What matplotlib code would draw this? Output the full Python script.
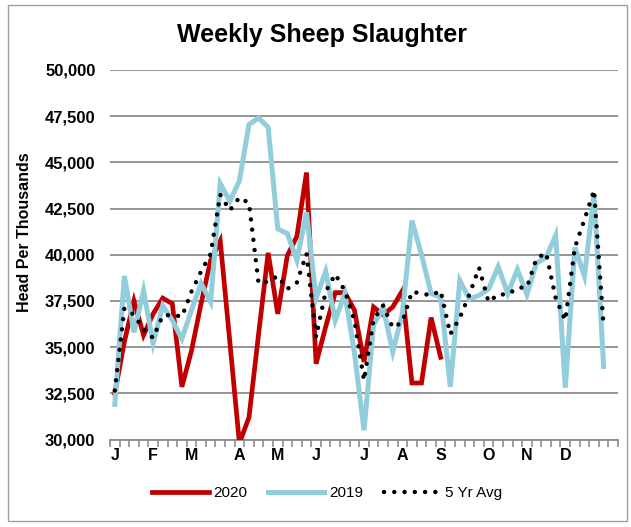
import numpy as np
import matplotlib
matplotlib.use("Agg")
import matplotlib.pyplot as plt
from matplotlib.patches import Rectangle
from matplotlib.ticker import FixedLocator, FuncFormatter

plt.rcParams['font.family'] = ['Liberation Sans', 'DejaVu Sans']

# ---- data ----
month_labels = ["J", "F", "M", "A", "M", "J", "J", "A", "S", "O", "N", "D"]
month_weeks = [0, 4, 8, 13, 17, 21, 26, 30, 34, 39, 43, 47]

y2020 = [32500, 35300, 37500, 35650, 36800, 37650, 37350, 32850, 34800, 37350,
         39700, 40750, 35300, 29800, 31200, 35700, 40100, 36800, 39950, 41000,
         44450, 34100, 36100, 37950, 37950, 37000, 34200, 37170, 36750, 37175,
         38050, 33060, 33060, 36600, 34450]

y2019 = [31900, 38850, 35800, 38050, 35200, 37250, 36450, 35450, 37000, 38450,
         37450, 43850, 42900, 44000, 47050, 47400, 46900, 41400, 41150, 39700,
         42300, 37650, 39100, 36450, 37900, 34700, 30500, 36200, 37150, 34750,
         36800, 41850, 40000, 37900, 37700, 32850, 38600, 37600, 37800, 38150,
         39350, 37900, 39200, 37850, 39550, 39850, 41050, 32800, 40400, 38850,
         43250, 33950]

avg5 = [32650, 37100, 36750, 35950, 35500, 36700, 36750, 36650, 38000, 39100,
        40050, 43250, 42400, 43100, 42800, 38450, 38550, 38850, 38150, 38500,
        40050, 35550, 38000, 38950, 38050, 36450, 33200, 36500, 37250, 36050,
        36350, 38000, 37900, 37800, 38050, 35700, 36600, 37850, 39300, 37450,
        37850, 37850, 38200, 38250, 39800, 40100, 37650, 36450, 40400, 41900,
        43500, 36100]

n_weeks = 53

W, H = 631, 527
fig = plt.figure(figsize=(W / 100, H / 100), dpi=100)
ax = fig.add_axes([110 / W, 1 - 439.5 / H, (618 - 110) / W, (439.5 - 70) / H])

red = "#C00000"
blue = "#92CDDC"

ax.plot(np.arange(len(y2020)), y2020, color=red, lw=3.4, solid_joinstyle="miter",
        label="2020", zorder=3)
ax.plot(np.arange(len(y2019)), y2019, color=blue, lw=3.6, solid_joinstyle="miter",
        label="2019", zorder=4)
ax.plot(np.arange(len(avg5)), avg5, color="black", lw=3.2,
        linestyle=(0, (0.01, 2.3)), dash_capstyle="round",
        label="5 Yr Avg", zorder=5)

ax.set_xlim(-0.5, n_weeks - 0.5)
ax.set_ylim(30000, 50000)

ax.set_yticks(np.arange(30000, 50001, 2500))
ax.yaxis.set_major_formatter(FuncFormatter(lambda v, p: f"{int(v):,}"))
ax.grid(axis="y", color="#8c8c8c", lw=1.3, zorder=0)
ax.tick_params(axis="y", length=0, pad=10.5, labelsize=12)
for t in ax.get_yticklabels():
    t.set_fontweight("bold")

ax.set_xticks(month_weeks)
ax.set_xticklabels(month_labels, fontweight="bold", fontsize=11.5)
ax.xaxis.set_minor_locator(FixedLocator(np.arange(-0.5, n_weeks, 1.0)))
ax.tick_params(axis="x", which="major", length=0, pad=6)
ax.tick_params(axis="x", which="minor", length=5, width=1.2, color="#8c8c8c")

for s in ["top", "right", "left"]:
    ax.spines[s].set_visible(False)
ax.spines["bottom"].set_color("#8c8c8c")
ax.spines["bottom"].set_linewidth(1.3)

fig.text(25 / W, 1 - 232 / H, "Head Per Thousands", rotation=90, ha="center",
         va="center", fontsize=11.5, fontweight="bold")
fig.text(322 / W, 1 - 35 / H, "Weekly Sheep Slaughter", ha="center", va="center",
         fontsize=18, fontweight="bold")

fig.legend(loc="center", bbox_to_anchor=(327 / W, 1 - 493 / H), ncol=3,
           frameon=False, fontsize=11, handlelength=3.7, handletextpad=0.3,
           columnspacing=1.35)

fig.patches.append(Rectangle((8 / W, 1 - 521 / H), (627 - 8) / W, (521 - 5) / H,
                             transform=fig.transFigure, fill=False,
                             edgecolor="#a0a0a0", lw=1))

fig.savefig("out.png", dpi=100)
